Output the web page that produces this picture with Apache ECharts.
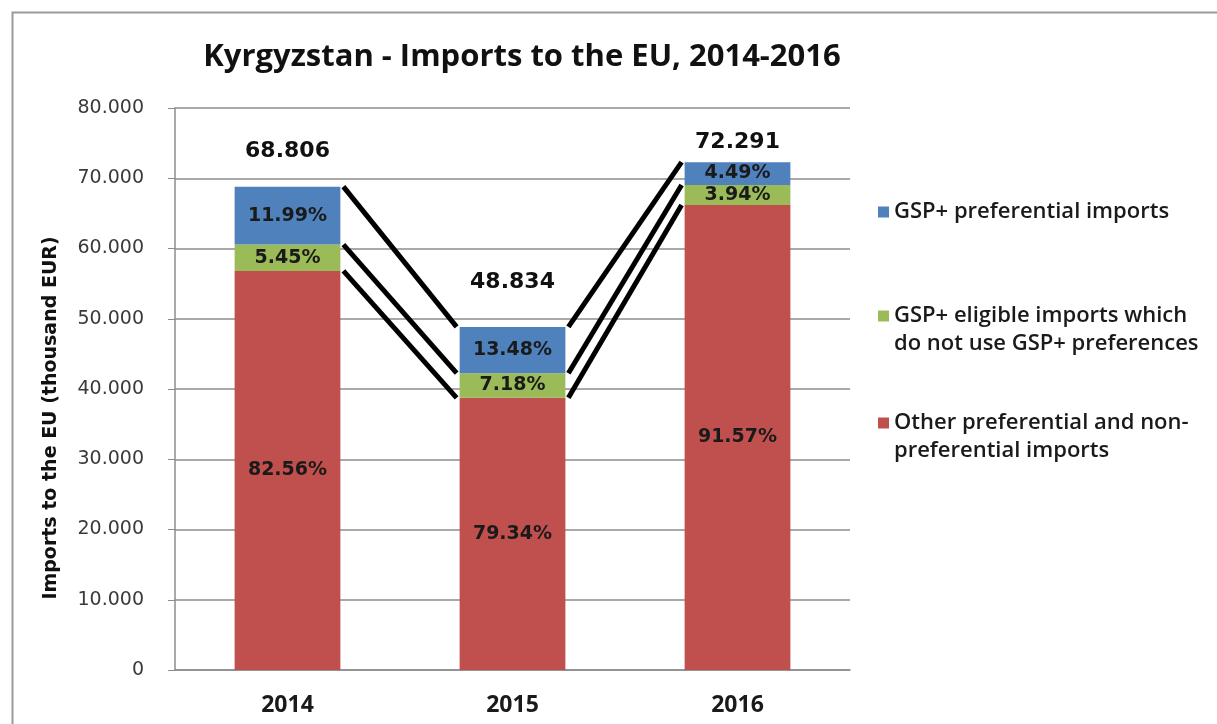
<!DOCTYPE html>
<html>
<head>
<meta charset="utf-8">
<title>Kyrgyzstan - Imports to the EU</title>
<script src="https://cdn.jsdelivr.net/npm/echarts@6/dist/echarts.min.js"></script>
<style>
  html, body { margin: 0; padding: 0; background: #fff; }
  #chart { width: 1217px; height: 724px; }
</style>
</head>
<body>
<div id="chart"></div>
<script>
// data
var years = ['2014', '2015', '2016'];
var totals = [68806, 48834, 72291];
var shareOther = [82.56, 79.34, 91.57];     // red
var shareEligible = [5.45, 7.18, 3.94];     // green
var sharePref = [11.99, 13.48, 4.49];       // blue
var seriesNames = [
  'GSP+ preferential imports',
  'GSP+ eligible imports which\ndo not use GSP+ preferences',
  'Other preferential and non-\npreferential imports'
];
var yTicks = ['0', '10.000', '20.000', '30.000', '40.000', '50.000', '60.000', '70.000', '80.000'];

var colors = { pref: '#4F81BD', elig: '#9BBB59', other: '#C0504D' };
var BAR_RATIO = 0.47;

function part(shares) {
  return shares.map(function (s, i) { return totals[i] * s / 100; });
}
var otherVals = part(shareOther);
var eligVals = part(shareEligible);
var prefVals = part(sharePref);

// connector lines between the segment tops of neighbouring bars
var tops = [
  otherVals,
  otherVals.map(function (v, i) { return v + eligVals[i]; }),
  totals
];
var connData = [];
tops.forEach(function (layer) {
  for (var i = 0; i < layer.length - 1; i++) {
    connData.push([i, layer[i], layer[i + 1]]);
  }
});

var chart = echarts.init(document.getElementById('chart'));

var pctLabel = {
  show: true,
  position: 'inside',
  fontFamily: 'DejaVu Sans',
  fontWeight: 'bold',
  fontSize: 19,
  color: '#1a1a1a',
  formatter: function (p) { return p.data.pct.toFixed(2) + '%'; }
};

function barData(vals, shares) {
  return vals.map(function (v, i) { return { value: v, pct: shares[i] }; });
}

var totalDist = [24, 34, 9];

// legend: for two-line entries the square goes next to the first line
var legendTops = [198, 302, 409];
var squareTop = 'path://M0,0L11,0L11,11L0,11Z M0,39L11,39';

var option = {
  animation: false,
  textStyle: { fontFamily: 'DejaVu Sans' },
  graphic: [{
    type: 'rect',
    left: 10, top: 10,
    shape: { width: 1240, height: 740 },
    style: { fill: 'none', stroke: '#9a9a9a', lineWidth: 2 },
    silent: true
  }],
  title: {
    text: 'Kyrgyzstan - Imports to the EU, 2014-2016',
    left: 517,
    textAlign: 'center',
    top: 37,
    textStyle: {
      fontFamily: 'Open Sans',
      fontWeight: 'bold',
      fontSize: 31,
      color: '#111'
    }
  },
  legend: seriesNames.map(function (name, k) {
    var twoLines = name.indexOf('\n') >= 0;
    return {
      data: [name],
      orient: 'vertical',
      left: 878,
      top: legendTops[k],
      padding: 0,
      itemWidth: 11,
      itemHeight: twoLines ? 39 : 11,
      icon: twoLines ? squareTop : 'rect',
      selectedMode: false,
      textStyle: {
        fontFamily: 'Open Sans',
        fontWeight: 600,
        fontSize: 22,
        lineHeight: 28,
        color: '#1a1a1a'
      }
    };
  }),
  grid: { left: 175, right: 367, top: 108, bottom: 54 },
  xAxis: {
    type: 'category',
    data: years,
    axisTick: { show: false },
    axisLine: { lineStyle: { color: '#8c8c8c', width: 1.5 } },
    axisLabel: {
      margin: 24,
      fontFamily: 'Open Sans',
      fontWeight: 'bold',
      fontSize: 23,
      color: '#1a1a1a'
    }
  },
  yAxis: {
    type: 'value',
    min: 0,
    max: 80000,
    interval: 10000,
    name: 'Imports to the EU (thousand EUR)',
    nameLocation: 'middle',
    nameGap: 114,
    nameTextStyle: {
      fontFamily: 'DejaVu Sans',
      fontWeight: 'bold',
      fontSize: 19,
      color: '#111',
      padding: [0, 58, 0, 0]
    },
    axisLine: { show: true, lineStyle: { color: '#8c8c8c', width: 1.5 } },
    axisTick: { show: true, length: 7, lineStyle: { color: '#8c8c8c' } },
    splitLine: { lineStyle: { color: '#8c8c8c', width: 1.5 } },
    axisLabel: {
      margin: 31,
      fontFamily: 'DejaVu Sans',
      fontSize: 19,
      color: '#3a3a3a',
      formatter: function (v) { return yTicks[Math.round(v / 10000)]; }
    }
  },
  series: [
    {
      name: seriesNames[2],
      type: 'bar',
      stack: 'imp',
      barWidth: (BAR_RATIO * 100) + '%',
      itemStyle: { color: colors.other },
      label: pctLabel,
      data: barData(otherVals, shareOther)
    },
    {
      name: seriesNames[1],
      type: 'bar',
      stack: 'imp',
      itemStyle: { color: colors.elig },
      label: pctLabel,
      data: barData(eligVals, shareEligible)
    },
    {
      name: seriesNames[0],
      type: 'bar',
      stack: 'imp',
      itemStyle: { color: colors.pref },
      label: pctLabel,
      data: barData(prefVals, sharePref)
    },
    {
      // total above each bar
      name: 'total',
      type: 'bar',
      stack: 'imp',
      itemStyle: { color: 'transparent' },
      data: totals.map(function (t, i) {
        return {
          value: 0,
          total: t,
          label: { distance: totalDist[i] }
        };
      }),
      label: {
        show: true,
        position: 'top',
        fontFamily: 'DejaVu Sans',
        fontWeight: 'bold',
        fontSize: 22,
        color: '#111',
        formatter: function (p) {
          return (p.data.total / 1000).toFixed(3);
        }
      }
    },
    {
      name: 'connectors',
      type: 'custom',
      z: 5,
      silent: true,
      data: connData,
      renderItem: function (params, api) {
        var i = api.value(0);
        var p1 = api.coord([i, api.value(1)]);
        var p2 = api.coord([i + 1, api.value(2)]);
        var half = api.size([1, 0])[0] * BAR_RATIO / 2;
        return {
          type: 'line',
          shape: {
            x1: p1[0] + half + 3, y1: p1[1],
            x2: p2[0] - half - 3, y2: p2[1]
          },
          style: { stroke: '#000', lineWidth: 5 }
        };
      }
    }
  ]
};

chart.setOption(option);
</script>
</body>
</html>
